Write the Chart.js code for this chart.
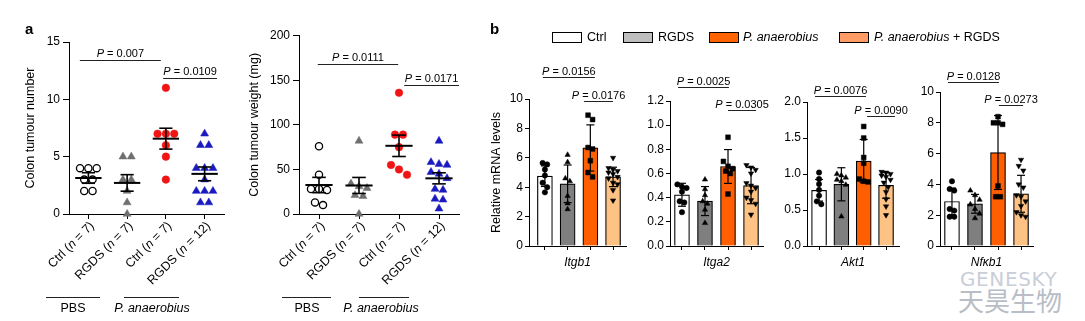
<!DOCTYPE html>
<html><head><meta charset="utf-8">
<script src="https://cdn.jsdelivr.net/npm/chart.js@4.4.1/dist/chart.umd.min.js"></script>
<style>
html,body{margin:0;padding:0;background:#fff;}
body{width:1085px;height:321px;position:relative;overflow:hidden;font-family:"Liberation Sans",Arial,Helvetica,sans-serif;color:#000;}
canvas{position:absolute;left:0;top:0;}
.abs{position:absolute;white-space:nowrap;}
.hl{position:absolute;height:0;border-top:1px solid #222;}
.lab{position:absolute;font-size:12.5px;line-height:15px;text-align:center;white-space:nowrap;}
.box{position:absolute;top:32px;width:28px;height:9px;border:1px solid #000;}
.leg{position:absolute;top:30px;font-size:12.5px;line-height:15px;white-space:nowrap;}
</style></head><body>
<div class="abs" style="left:960px;top:268px;font-family:'DejaVu Sans';font-size:20px;line-height:22px;color:#c9ced8;letter-spacing:0.6px">GENESKY</div>
<div class="abs" style="left:958px;top:285px;font-family:'Noto Sans CJK SC';font-size:26px;line-height:30px;color:#b9bdc5">天昊生物</div>

<canvas id="c1" width="1085" height="321"></canvas>
<canvas id="c2" width="1085" height="321"></canvas>
<canvas id="c3" width="1085" height="321"></canvas>
<canvas id="c4" width="1085" height="321"></canvas>
<canvas id="c5" width="1085" height="321"></canvas>
<canvas id="c6" width="1085" height="321"></canvas>

<div class="abs" style="left:25px;top:20px;font-weight:bold;font-size:15px;line-height:17px">a</div>
<div class="abs" style="left:490px;top:20px;font-weight:bold;font-size:15px;line-height:17px">b</div>

<!-- group labels panel a -->
<div class="hl" style="left:46px;width:54px;top:297px"></div>
<div class="hl" style="left:124px;width:55px;top:297px"></div>
<div class="lab" style="left:33px;width:80px;top:301px">PBS</div>
<div class="lab" style="left:102px;width:100px;top:301px"><i>P. anaerobius</i></div>
<div class="hl" style="left:282px;width:49px;top:297px"></div>
<div class="hl" style="left:359px;width:50px;top:297px"></div>
<div class="lab" style="left:267px;width:80px;top:301px">PBS</div>
<div class="lab" style="left:331px;width:100px;top:301px"><i>P. anaerobius</i></div>

<!-- legend panel b -->
<div class="box" style="left:552px;background:#ffffff"></div><div class="leg" style="left:587px">Ctrl</div>
<div class="box" style="left:623px;background:#bebebe"></div><div class="leg" style="left:658px">RGDS</div>
<div class="box" style="left:709px;background:#ff6400"></div><div class="leg" style="left:743px"><i>P. anaerobius</i></div>
<div class="box" style="left:839px;background:#ff9b64"></div><div class="leg" style="left:874px"><i>P. anaerobius</i> + RGDS</div>

<script>
// ---------------- data: panel a ----------------
const tumourGroups = ['Ctrl (n = 7)', 'RGDS (n = 7)', 'Ctrl (n = 7)', 'RGDS (n = 12)'];
const tumourNumber = [
  [4, 4, 4, 3, 3, 2, 2],
  [5, 5, 3, 3, 2, 1, 0],
  [11, 7, 7, 7, 6, 5, 3],
  [7, 6, 6, 4, 4, 4, 3, 2, 2, 2, 1, 1]
];
const tumourNumberMean = [3.14, 2.71, 6.57, 3.5];
const tumourNumberSem = [0.46, 0.72, 0.91, 0.6];
const tumourNumberTicks = ['0', '5', '10', '15'];
const tumourNumberP = [
  { from: -0.22, to: 1.87, y: 13.4, p: '0.007' },
  { from: 1.93, to: 3.32, y: 11.86, p: '0.0109' }
];

const tumourWeight = [
  [76, 44, 28, 28, 27, 13, 10],
  [82, 34, 31, 29, 21, 20, 0],
  [136, 89, 89, 75, 55, 50, 44],
  [82, 58, 56, 55, 47, 45, 40, 28, 27, 17, 16, 6]
];
const tumourWeightMean = [32.5, 32, 76.5, 40];
const tumourWeightSem = [8.6, 9, 12, 6.2];
const tumourWeightTicks = ['0', '50', '100', '150', '200'];
const tumourWeightP = [
  { from: -0.03, to: 1.98, y: 168.6, p: '0.0111' },
  { from: 2.13, to: 3.5, y: 144.7, p: '0.0171' }
];

// ---------------- data: panel b ----------------
const mrnaGroups = ['Ctrl', 'RGDS', 'P. anaerobius', 'P. anaerobius + RGDS'];
const genes = ['Itgb1', 'Itga2', 'Akt1', 'Nfκb1'];

const itgb1Mean = [4.75, 4.23, 6.67, 4.70];
const itgb1Sd = [0.70, 1.28, 1.57, 0.66];
const itgb1Points = [
  [5.65, 5.55, 5.2, 4.8, 4.3, 4.0, 3.65],
  [6.2, 5.7, 4.6, 4.4, 3.4, 2.9, 2.5],
  [8.9, 8.6, 6.7, 6.6, 5.8, 5.0, 4.7],
  [6.0, 5.3, 5.2, 5.1, 5.0, 4.9, 4.7, 4.6, 4.3, 4.2, 3.8, 3.1]
];
const itgb1Ticks = ['0', '2', '4', '6', '8', '10'];
const itgb1P = [
  { from: -0.09, to: 2.2, y: 11.5, p: '0.0156' },
  { from: 1.72, to: 3.0, y: 9.86, p: '0.0176' }
];

const itga2Mean = [0.424, 0.372, 0.658, 0.50];
const itga2Sd = [0.095, 0.12, 0.14, 0.15];
const itga2Points = [
  [0.51, 0.49, 0.48, 0.45, 0.37, 0.36, 0.28],
  [0.55, 0.47, 0.42, 0.37, 0.35, 0.30, 0.19],
  [0.90, 0.70, 0.66, 0.64, 0.62, 0.60, 0.43],
  [0.67, 0.65, 0.63, 0.60, 0.52, 0.50, 0.48, 0.45, 0.40, 0.38, 0.35, 0.26]
];
const itga2Ticks = ['0.0', '0.2', '0.4', '0.6', '0.8', '1.0', '1.2'];
const itga2P = [
  { from: -0.17, to: 2.04, y: 1.316, p: '0.0025' },
  { from: 2.0, to: 3.22, y: 1.126, p: '0.0305' }
];

const akt1Mean = [0.774, 0.857, 1.18, 0.843];
const akt1Sd = [0.15, 0.23, 0.30, 0.18];
const akt1Points = [
  [1.02, 0.93, 0.86, 0.78, 0.70, 0.62, 0.58],
  [1.00, 0.98, 0.95, 0.92, 0.90, 0.85, 0.41],
  [1.66, 1.50, 1.23, 1.15, 0.93, 0.90, 0.89],
  [1.03, 1.02, 1.00, 0.98, 0.96, 0.92, 0.88, 0.82, 0.75, 0.65, 0.55, 0.43]
];
const akt1Ticks = ['0.0', '0.5', '1.0', '1.5', '2.0'];
const akt1P = [
  { from: -0.18, to: 2.1, y: 2.083, p: '0.0076' },
  { from: 2.15, to: 3.4, y: 1.806, p: '0.0090' }
];

const nfkb1Mean = [2.89, 2.74, 6.07, 3.39];
const nfkb1Sd = [0.87, 0.61, 2.4, 1.2];
const nfkb1Points = [
  [4.2, 3.7, 3.6, 2.4, 2.3, 1.9, 1.9],
  [3.6, 3.3, 3.0, 2.7, 2.4, 2.1, 1.8],
  [8.4, 8.0, 8.0, 7.9, 3.9, 3.2, 3.2],
  [5.6, 5.2, 4.9, 4.0, 3.8, 3.3, 3.2, 2.9, 2.6, 2.2, 2.0, 1.9]
];
const nfkb1Ticks = ['0', '2', '4', '6', '8', '10'];
const nfkb1P = [
  { from: -0.17, to: 2.04, y: 10.65, p: '0.0128' },
  { from: 2.04, to: 3.09, y: 9.16, p: '0.0273' }
];

// ---------------- helpers ----------------
const W = 1085, H = 321;
const FONT = '"Liberation Sans", Arial, Helvetica, sans-serif';
Chart.defaults.font.family = FONT;
Chart.defaults.color = '#000';

function fnt(size, italic) { return (italic ? 'italic ' : '') + size + 'px ' + FONT; }

function drawMixed(ctx, segs, x, y, align, size) {
  let total = 0;
  segs.forEach(s => { ctx.font = fnt(size, s.i); s.w = ctx.measureText(s.t).width; total += s.w; });
  let cx = align === 'center' ? x - total / 2 : (align === 'right' ? x - total : x);
  ctx.textAlign = 'left';
  segs.forEach(s => { ctx.font = fnt(size, s.i); ctx.fillText(s.t, cx, y); cx += s.w; });
}

function groupSegs(label) {
  const m = label.match(/^(.*\()n( = .*)$/);
  if (!m) return [{ t: label, i: false }];
  return [{ t: m[1], i: false }, { t: 'n', i: true }, { t: m[2], i: false }];
}

// spread points that would overlap horizontally (beeswarm-like)
function jitter(values, thresh, step, maxPer) {
  const order = values.map((v, i) => i).sort((a, b) => values[b] - values[a]);
  const off = new Array(values.length).fill(0);
  let cluster = [];
  const flush = () => {
    const n = cluster.length;
    cluster.forEach((idx, k) => { off[idx] = (k - (n - 1) / 2) * step; });
    cluster = [];
  };
  order.forEach(idx => {
    if (cluster.length) {
      const last = values[cluster[cluster.length - 1]];
      if (last - values[idx] >= thresh || cluster.length >= maxPer) flush();
    }
    cluster.push(idx);
  });
  flush();
  return off;
}

function drawBrackets(ctx, x, y, list, gap) {
  ctx.save();
  ctx.strokeStyle = '#222';
  ctx.lineWidth = 1;
  ctx.fillStyle = '#000';
  ctx.textBaseline = 'alphabetic';
  list.forEach(b => {
    const x1 = x.getPixelForValue(b.from), x2 = x.getPixelForValue(b.to);
    const py = Math.round(y.getPixelForValue(b.y)) + 0.5;
    ctx.beginPath(); ctx.moveTo(x1, py); ctx.lineTo(x2, py); ctx.stroke();
    drawMixed(ctx, [{ t: 'P', i: true }, { t: ' = ' + b.p, i: false }], (x1 + x2) / 2, py - gap, 'center', 11);
  });
  ctx.restore();
}

function line(ctx, x1, y1, x2, y2) { ctx.beginPath(); ctx.moveTo(x1, y1); ctx.lineTo(x2, y2); ctx.stroke(); }

function buildChart(id, cfg) {
  const tickVals = cfg.yTicks.map(parseFloat);
  return new Chart(document.getElementById(id), {
    type: 'scatter',
    data: { datasets: cfg.datasets },
    options: {
      responsive: false, animation: false, devicePixelRatio: 1, events: [],
      layout: { padding: { left: cfg.area.l - cfg.yW, right: W - cfg.area.r, top: cfg.area.t, bottom: H - cfg.area.b - cfg.xH } },
      plugins: { legend: { display: false }, tooltip: { enabled: false }, title: { display: false } },
      scales: {
        x: {
          type: 'linear', min: cfg.xMin, max: cfg.xMax, offset: false,
          afterBuildTicks: s => { s.ticks = [0, 1, 2, 3].map(v => ({ value: v })); },
          afterFit: s => { s.height = cfg.xH; },
          ticks: { display: false },
          grid: { display: true, drawOnChartArea: false, drawTicks: true, tickLength: cfg.xTickLen, color: '#000', lineWidth: 1, offset: false },
          border: { display: true, color: '#000', width: 1 },
          title: cfg.xTitle ? { display: true, text: cfg.xTitle, font: { size: 12, style: 'italic', family: FONT }, color: '#000', padding: { top: 0, bottom: 4 } } : { display: false }
        },
        y: {
          type: 'linear', min: cfg.yMin, max: cfg.yMax,
          afterBuildTicks: s => { s.ticks = tickVals.map(v => ({ value: v })); },
          afterFit: s => { s.width = cfg.yW; },
          ticks: { display: true, font: { size: 12, family: FONT }, color: '#000', padding: cfg.tickPad, callback: (v, i) => cfg.yTicks[i] },
          grid: { display: true, drawOnChartArea: false, drawTicks: true, tickLength: cfg.tickLen, color: '#000', lineWidth: 1 },
          border: { display: true, color: '#000', width: 1 },
          title: cfg.yTitle ? { display: true, text: cfg.yTitle, font: { size: 12.5, family: FONT }, color: '#000', padding: { top: cfg.yTitlePad, bottom: 0 } } : { display: false }
        }
      }
    },
    plugins: cfg.plugins
  });
}

// ---------------- panel a ----------------
const aStyles = [
  { shape: 'circle', r: 3.6, fill: '#ffffff', stroke: '#000000', bw: 1.3, rot: 0 },
  { shape: 'triangle', r: 4.6, fill: '#6f6f6f', stroke: '#6f6f6f', bw: 0.5, rot: 0 },
  { shape: 'circle', r: 3.8, fill: '#f01414', stroke: '#f01414', bw: 0.5, rot: 0 },
  { shape: 'triangle', r: 4.6, fill: '#1a1ac0', stroke: '#1a1ac0', bw: 0.5, rot: 0 }
];

function scatterSets(values, styles, thresh, step, maxPer) {
  return values.map((vals, g) => {
    const off = jitter(vals, thresh, step, maxPer);
    const st = styles[g];
    return {
      type: 'scatter', order: 0, clip: false,
      data: vals.map((v, i) => ({ x: g + off[i], y: v })),
      pointStyle: st.shape, pointRadius: st.r, pointRotation: st.rot,
      backgroundColor: st.fill, borderColor: st.stroke, borderWidth: st.bw
    };
  });
}

function panelAPlugin(means, sems, brackets, labels) {
  return {
    id: 'panelA',
    afterDatasetsDraw(chart) {
      const { ctx, scales: { x, y } } = chart;
      ctx.save();
      ctx.strokeStyle = '#000';
      means.forEach((m, i) => {
        const cx = x.getPixelForValue(i);
        const hm = x.getPixelForValue(i + 0.34) - cx, hc = x.getPixelForValue(i + 0.17) - cx;
        const my = y.getPixelForValue(m), hi = y.getPixelForValue(m + sems[i]), lo = y.getPixelForValue(m - sems[i]);
        ctx.lineWidth = 2; line(ctx, cx - hm, my, cx + hm, my);
        ctx.lineWidth = 1.6; line(ctx, cx, lo, cx, hi);
        line(ctx, cx - hc, hi, cx + hc, hi); line(ctx, cx - hc, lo, cx + hc, lo);
      });
      ctx.restore();
      drawBrackets(ctx, x, y, brackets, 4);
    },
    afterDraw(chart) {
      const { ctx, scales: { x }, chartArea } = chart;
      labels.forEach((lab, i) => {
        const px = x.getPixelForValue(i);
        ctx.save();
        ctx.translate(px + 4, chartArea.bottom + 10);
        ctx.rotate(-Math.PI / 4);
        ctx.fillStyle = '#000';
        ctx.textBaseline = 'middle';
        drawMixed(ctx, groupSegs(lab), 0, 0, 'right', 12.5);
        ctx.restore();
      });
    }
  };
}

buildChart('c1', {
  area: { l: 69, r: 224, t: 42, b: 214 }, yW: 69, xH: 20,
  xMin: -0.5, xMax: 3.5, xTickLen: 5,
  yMin: 0, yMax: 15, yTicks: tumourNumberTicks, tickLen: 6, tickPad: 3,
  yTitle: 'Colon tumour number', yTitlePad: 23.5,
  datasets: scatterSets(tumourNumber, aStyles, 0.5, 0.215, 5),
  plugins: [panelAPlugin(tumourNumberMean, tumourNumberSem, tumourNumberP, tumourGroups)]
});

buildChart('c2', {
  area: { l: 299, r: 459, t: 35.7, b: 214 }, yW: 60, xH: 20,
  xMin: -0.5, xMax: 3.5, xTickLen: 5,
  yMin: 0, yMax: 200, yTicks: tumourWeightTicks, tickLen: 6, tickPad: 3,
  yTitle: 'Colon tumour weight (mg)', yTitlePad: 8.5,
  datasets: scatterSets(tumourWeight, aStyles, 7, 0.2, 4),
  plugins: [panelAPlugin(tumourWeightMean, tumourWeightSem, tumourWeightP, tumourGroups)]
});

// ---------------- panel b ----------------
const barFill = ['#ffffff', '#7f7f7f', '#ff5f00', '#ffc285'];
const bStyles = [
  { shape: 'circle', r: 2.7, fill: '#000', stroke: '#000', bw: 0.5, rot: 0 },
  { shape: 'triangle', r: 3.1, fill: '#000', stroke: '#000', bw: 0.5, rot: 0 },
  { shape: 'rect', r: 3.4, fill: '#000', stroke: '#000', bw: 0.5, rot: 0 },
  { shape: 'triangle', r: 3.1, fill: '#000', stroke: '#000', bw: 0.5, rot: 180 }
];

function panelBPlugin(means, sds, brackets) {
  return {
    id: 'panelB',
    afterDatasetDraw(chart, args) {
      if (args.meta.type !== 'bar') return;
      const { ctx, scales: { x, y } } = chart;
      ctx.save();
      ctx.strokeStyle = '#000';
      ctx.lineWidth = 1.2;
      means.forEach((m, i) => {
        const cx = x.getPixelForValue(i);
        const hi = y.getPixelForValue(m + sds[i]), lo = y.getPixelForValue(Math.max(0, m - sds[i]));
        line(ctx, cx, lo, cx, hi);
        line(ctx, cx - 4, hi, cx + 4, hi);
        line(ctx, cx - 4, lo, cx + 4, lo);
      });
      ctx.restore();
    },
    afterDatasetsDraw(chart) {
      const { ctx, scales: { x, y } } = chart;
      drawBrackets(ctx, x, y, brackets, 3);
    }
  };
}

function barSets(means, points, thresh) {
  const sets = scatterSets(points, bStyles, thresh, 0.2, 3);
  sets.push({
    type: 'bar', order: 5, clip: false,
    data: means.map((m, i) => ({ x: i, y: m })),
    backgroundColor: barFill, borderColor: '#000', borderWidth: 1.2,
    barThickness: 15, borderSkipped: 'start'
  });
  return sets;
}

buildChart('c3', {
  area: { l: 529, r: 626, t: 99, b: 246 }, yW: 40, xH: 28,
  xMin: -0.7, xMax: 3.57, xTickLen: 4,
  yMin: 0, yMax: 10, yTicks: itgb1Ticks, tickLen: 4, tickPad: 2,
  yTitle: 'Relative mRNA levels', yTitlePad: 0.5, xTitle: genes[0],
  datasets: barSets(itgb1Mean, itgb1Points, 0.34),
  plugins: [panelBPlugin(itgb1Mean, itgb1Sd, itgb1P)]
});

buildChart('c4', {
  area: { l: 670, r: 763, t: 101, b: 246 }, yW: 30, xH: 28,
  xMin: -0.52, xMax: 3.52, xTickLen: 4,
  yMin: 0, yMax: 1.2, yTicks: itga2Ticks, tickLen: 4, tickPad: 2,
  xTitle: genes[1],
  datasets: barSets(itga2Mean, itga2Points, 0.041),
  plugins: [panelBPlugin(itga2Mean, itga2Sd, itga2P)]
});

buildChart('c5', {
  area: { l: 807, r: 899, t: 102, b: 246 }, yW: 30, xH: 28,
  xMin: -0.54, xMax: 3.58, xTickLen: 4,
  yMin: 0, yMax: 2, yTicks: akt1Ticks, tickLen: 4, tickPad: 2,
  xTitle: genes[2],
  datasets: barSets(akt1Mean, akt1Points, 0.069),
  plugins: [panelBPlugin(akt1Mean, akt1Sd, akt1P)]
});

buildChart('c6', {
  area: { l: 940, r: 1033, t: 92, b: 246 }, yW: 30, xH: 28,
  xMin: -0.52, xMax: 3.52, xTickLen: 4,
  yMin: 0, yMax: 10, yTicks: nfkb1Ticks, tickLen: 4, tickPad: 2,
  xTitle: genes[3],
  datasets: barSets(nfkb1Mean, nfkb1Points, 0.32),
  plugins: [panelBPlugin(nfkb1Mean, nfkb1Sd, nfkb1P)]
});
</script>
</body></html>
